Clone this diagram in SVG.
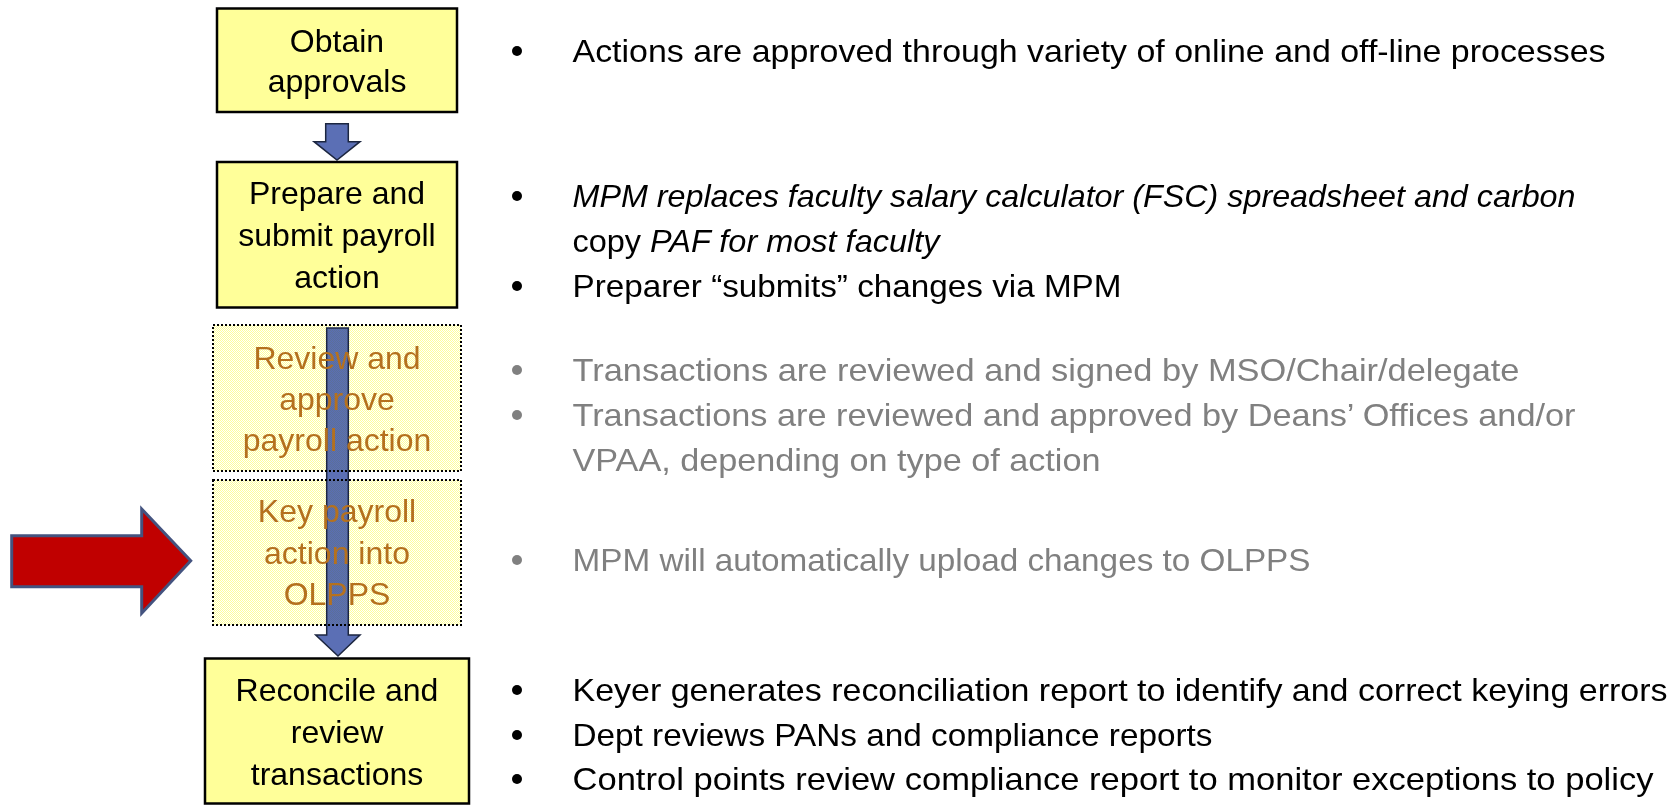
<svg xmlns="http://www.w3.org/2000/svg" width="1678" height="805" viewBox="0 0 1678 805">
  <defs>
    <!-- checkered yellow fill used by the faded (inactive) steps -->
    <pattern id="dither" width="2" height="2" patternUnits="userSpaceOnUse">
      <rect x="0" y="0" width="1" height="1" fill="#ffff99"/>
      <rect x="1" y="1" width="1" height="1" fill="#ffff99"/>
    </pattern>
  </defs>
  <style>
    .box { fill: #ffff99; stroke: #000; stroke-width: 2.5; }
    .faded { fill: url(#dither); stroke: #000; stroke-width: 2; stroke-dasharray: 2 2; mix-blend-mode: darken; }
    .lbl { font-family: "Liberation Sans", Arial, sans-serif; font-size: 32px; text-anchor: middle; fill: #000; }
    .lbl.dim { fill: #b5711e; }
    .flow { fill: #5b6fb5; stroke: #1c2640; stroke-width: 1.5; }
    .note { font-family: "Liberation Sans", Arial, sans-serif; font-size: 32px; fill: #000; }
    .note.dim { fill: #808080; }
    .dot { fill: #000; }
    .dot.dim { fill: #808080; }
  </style>

  <rect width="1678" height="805" fill="#fff"/>

  <!-- connectors: flow arrows between steps -->
  <g id="connectors">
    <path class="flow" d="M325.7,123.7 H348.3 V141.7 H360 L337,160 L314,141.7 H325.7 Z"/>
    <path class="flow" d="M326.7,328 H348.3 V635 H360 L338,656 L315.7,635 H326.7 Z"/>
  </g>

  <g id="step-obtain">
    <rect class="box" x="217" y="8.5" width="240" height="103.5"/>
    <text class="lbl" x="337" y="52">Obtain</text>
    <text class="lbl" x="337" y="92">approvals</text>
  </g>

  <g id="step-prepare">
    <rect class="box" x="217" y="162" width="240" height="145.5"/>
    <text class="lbl" x="337" y="203.5">Prepare and</text>
    <text class="lbl" x="337" y="245.5">submit payroll</text>
    <text class="lbl" x="337" y="287.5">action</text>
  </g>

  <g id="step-review">
    <rect class="faded" x="213" y="325" width="248" height="146"/>
    <text class="lbl dim" x="337" y="368.5">Review and</text>
    <text class="lbl dim" x="337" y="409.5">approve</text>
    <text class="lbl dim" x="337" y="450.5">payroll action</text>
  </g>

  <g id="step-key">
    <rect class="faded" x="213" y="480" width="248" height="145"/>
    <text class="lbl dim" x="337" y="522">Key payroll</text>
    <text class="lbl dim" x="337" y="563.5">action into</text>
    <text class="lbl dim" x="337" y="604.5">OLPPS</text>
  </g>

  <g id="step-reconcile">
    <rect class="box" x="205" y="658.5" width="264" height="145"/>
    <text class="lbl" x="337" y="701">Reconcile and</text>
    <text class="lbl" x="337" y="743">review</text>
    <text class="lbl" x="337" y="784.5">transactions</text>
  </g>

  <!-- pointer marking the current step -->
  <g id="pointer">
    <path d="M11.7,535.7 H141.7 V509 L190.7,560.7 L141.7,613.3 V586.7 H11.7 Z" fill="#c00000" stroke="#44537f" stroke-width="3"/>
  </g>

  <!-- notes beside each step -->
  <g id="notes">
    <circle class="dot" cx="517" cy="51" r="5"/>
    <text class="note" x="572.5" y="62" textLength="1033" lengthAdjust="spacingAndGlyphs">Actions are approved through variety of online and off-line processes</text>

    <circle class="dot" cx="517" cy="196" r="5"/>
    <text class="note" x="572.5" y="207" font-style="italic" textLength="1003" lengthAdjust="spacingAndGlyphs">MPM replaces faculty salary calculator (FSC) spreadsheet and carbon</text>
    <text class="note" x="572.5" y="252" textLength="367" lengthAdjust="spacingAndGlyphs">copy <tspan font-style="italic">PAF for most faculty</tspan></text>
    <circle class="dot" cx="517" cy="286" r="5"/>
    <text class="note" x="572.5" y="297" textLength="549" lengthAdjust="spacingAndGlyphs">Preparer “submits” changes via MPM</text>

    <circle class="dot dim" cx="517" cy="370" r="5"/>
    <text class="note dim" x="572.5" y="381" textLength="947" lengthAdjust="spacingAndGlyphs">Transactions are reviewed and signed by MSO/Chair/delegate</text>
    <circle class="dot dim" cx="517" cy="415" r="5"/>
    <text class="note dim" x="572.5" y="426" textLength="1003" lengthAdjust="spacingAndGlyphs">Transactions are reviewed and approved by Deans’ Offices and/or</text>
    <text class="note dim" x="572.5" y="471" textLength="528" lengthAdjust="spacingAndGlyphs">VPAA, depending on type of action</text>

    <circle class="dot dim" cx="517" cy="560" r="5"/>
    <text class="note dim" x="572.5" y="571" textLength="738" lengthAdjust="spacingAndGlyphs">MPM will automatically upload changes to OLPPS</text>

    <circle class="dot" cx="517" cy="690" r="5"/>
    <text class="note" x="572.5" y="701" textLength="1095" lengthAdjust="spacingAndGlyphs">Keyer generates reconciliation report to identify and correct keying errors</text>
    <circle class="dot" cx="517" cy="735" r="5"/>
    <text class="note" x="572.5" y="746" textLength="640" lengthAdjust="spacingAndGlyphs">Dept reviews PANs and compliance reports</text>
    <circle class="dot" cx="517" cy="779" r="5"/>
    <text class="note" x="572.5" y="790" textLength="1081" lengthAdjust="spacingAndGlyphs">Control points review compliance report to monitor exceptions to policy</text>
  </g>
</svg>
